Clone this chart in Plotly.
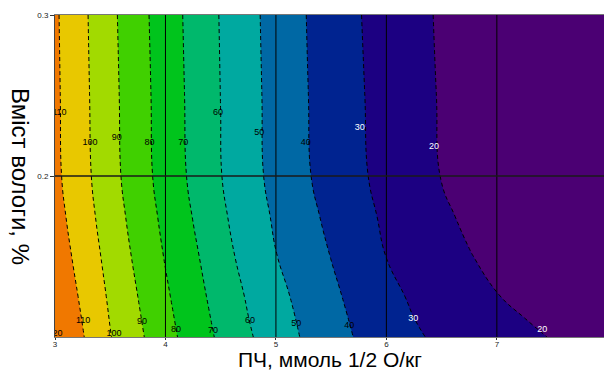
import plotly.graph_objects as go

# PCh (x) grid, moisture (y) grid and the values
x_vals = [3.0, 3.25, 3.5, 3.75, 4.0, 4.25, 4.5, 4.75, 5.0, 5.25,
          5.5, 5.75, 6.0, 6.25, 6.5, 6.75, 7.0, 7.25, 7.5, 8.0]
y_vals = [0.1, 0.125, 0.15, 0.175, 0.2, 0.25, 0.3]

z_y010 = [119.8, 110.6, 100.4, 92.0, 83.4, 75.6, 68.3, 61.1, 55.0, 49.2,
          44.0, 39.0, 35.1, 31.1, 28.4, 26.2, 24.0, 21.8, 19.6, 16.5]
z_y0125 = [118.2, 108.4, 98.6, 90.0, 81.4, 73.6, 66.2, 59.0, 52.9, 47.2,
           41.9, 37.1, 32.5, 28.8, 26.0, 23.1, 20.3, 18.0, 16.2, 13.8]
z_y015 = [115.8, 106.2, 96.8, 87.9, 79.4, 71.8, 63.7, 56.5, 50.25, 45.0,
          39.8, 34.8, 29.9, 26.7, 23.5, 20.4, 17.8, 16.0, 14.6, 12.8]
z_y0175 = [113.7, 104.3, 95.0, 86.0, 77.6, 69.7, 61.7, 54.9, 48.7, 43.1,
           37.8, 32.9, 28.5, 25.0, 21.5, 18.4, 15.9, 14.3, 13.2, 12.0]
z_y020 = [112.2, 103.0, 93.5, 84.5, 76.1, 68.1, 60.3, 53.5, 47.2, 41.4,
          36.3, 31.4, 27.3, 23.5, 19.75, 17.0, 14.8, 13.2, 12.3, 11.4]
z_y025 = [111.8, 102.4, 92.9, 84.0, 75.6, 67.5, 59.9, 53.1, 46.8, 40.9,
          35.8, 30.9, 26.8, 23.0, 19.3, 16.6, 14.4, 12.9, 12.0, 11.2]
z_y030 = [111.4, 101.9, 92.3, 83.4, 75.0, 67.0, 59.5, 52.7, 46.4, 40.5,
          35.4, 30.4, 26.4, 22.5, 18.9, 16.2, 14.0, 12.6, 11.7, 11.0]
z_rows = [z_y010, z_y0125, z_y015, z_y0175, z_y020, z_y025, z_y030]

# contour labels as placed in the reference (level, x, y)
label_levels = [110, 100, 90, 80, 70, 60, 50, 40, 30, 20,
                120, 110, 100, 90, 80, 70, 60, 50, 40, 30, 20]
label_x = [3.04, 3.317, 3.56, 3.856, 4.16, 4.476, 4.85, 5.27, 5.76, 6.43,
           3.0, 3.254, 3.534, 3.788, 4.096, 4.43, 4.766, 5.183, 5.663, 6.243, 7.41]
label_y = [0.239, 0.2205, 0.2236, 0.2205, 0.2205, 0.239, 0.227, 0.2205, 0.2298, 0.218,
           0.1019, 0.110, 0.1019, 0.1093, 0.1043, 0.1037, 0.110, 0.108, 0.1068, 0.1112, 0.1043]
white_label_levels = [20, 30]

x_ticks = [3, 4, 5, 6, 7]
y_ticks = [0.2, 0.3]
level_start, level_end, level_step = 10, 120, 10

band_colors = ['#4B0073', '#4B0073', '#1C0082', '#002390', '#0068A4', '#00A9A0',
               '#00B86C', '#00C41C', '#40D000', '#A2DA00', '#E8C800', '#F07800', '#F05A00']
n = len(band_colors) - 1
colorscale = [[k / n, c] for k, c in enumerate(band_colors)]

fig = go.Figure()
fig.add_trace(go.Contour(
    x=x_vals, y=y_vals, z=z_rows, colorscale=colorscale, showscale=False,
    contours=dict(start=level_start, end=level_end, size=level_step,
                  coloring='fill', showlines=True, showlabels=False),
    line=dict(color='black', width=1, dash="4px,3px", smoothing=1.3),
    hoverinfo='skip'))

fig.add_trace(go.Scatter(
    x=label_x, y=label_y, mode='text', text=[str(v) for v in label_levels],
    textposition='middle center',
    textfont=dict(size=9, family='Liberation Sans',
                  color=['white' if v in white_label_levels else 'black' for v in label_levels]),
    hoverinfo='skip', cliponaxis=True))

for v in x_ticks[1:]:
    fig.add_vline(x=v, line=dict(color='black', width=1), layer='above')
for v in y_ticks[:-1]:
    fig.add_hline(y=v, line=dict(color='#1a1a1a', width=1.5), layer='above')

fig.update_layout(
    width=604, height=372,
    margin=dict(l=55, r=0, t=15, b=35),
    paper_bgcolor='white', plot_bgcolor='white',
    font=dict(family='Liberation Sans', color='black'),
    showlegend=False,
    xaxis=dict(range=[3, 7.97], tickvals=x_ticks, ticktext=[str(t) for t in x_ticks],
               ticks='outside', ticklen=2, tickcolor='#333', tickfont=dict(size=8, color='#222'),
               ticklabelstandoff=-3,
               showgrid=False, zeroline=False, showline=True, linecolor='#777',
               linewidth=1, mirror=True),
    yaxis=dict(range=[0.1, 0.3], tickvals=y_ticks, ticktext=['0.2', '0.3'],
               ticks='outside', ticklen=4, tickcolor='#333', tickfont=dict(size=8, color='#222'),
               showgrid=False, zeroline=False, showline=True, linecolor='#444', linewidth=1),
    annotations=[
        dict(text='Вміст вологи, %', textangle=90, xref='paper', yref='paper',
             x=-34 / 549, y=0.5, xanchor='center', yanchor='middle', showarrow=False,
             font=dict(size=24, color='black')),
        dict(text='ПЧ, ммоль 1/2 О/кг', xref='paper', yref='paper',
             x=0.5, y=-22.5 / 322, xanchor='center', yanchor='middle', showarrow=False,
             font=dict(size=21, color='black')),
    ],
)

fig.write_html("out.html")
